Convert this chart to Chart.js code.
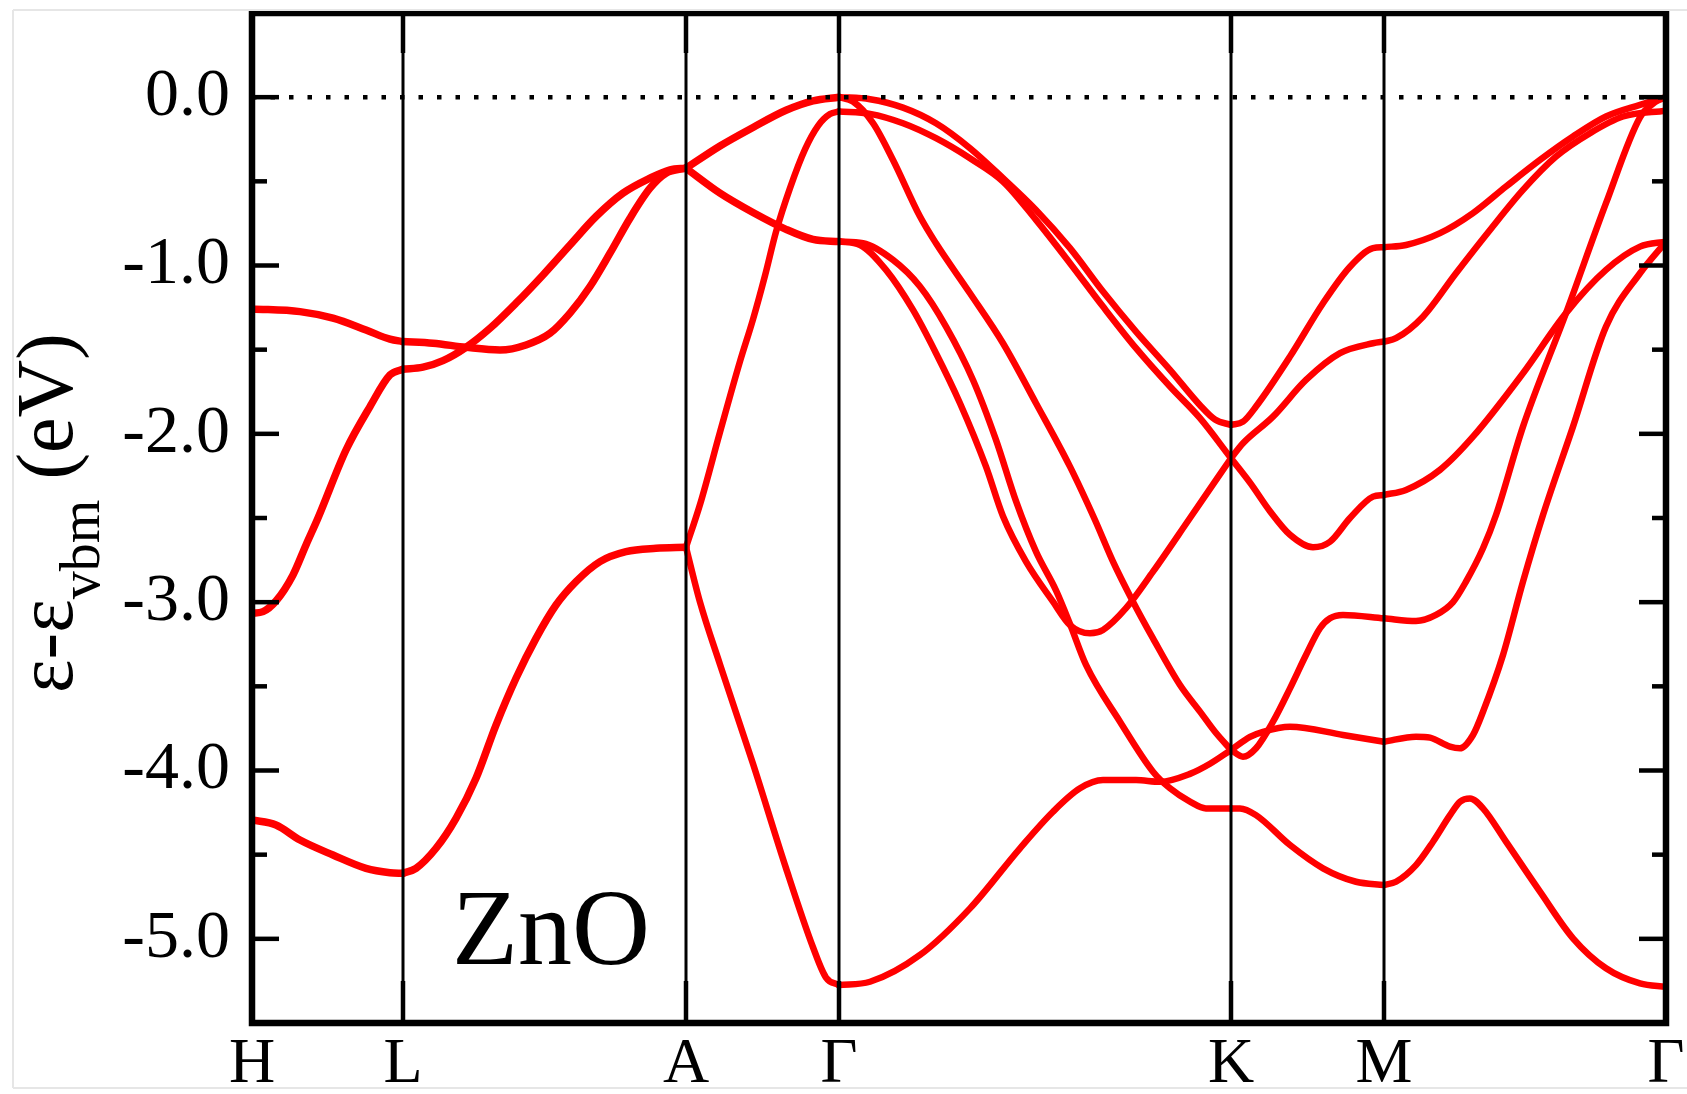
<!DOCTYPE html>
<html lang="en">
<head>
    <meta charset="UTF-8">
    <title>ZnO band structure</title>
    <script src="https://cdn.jsdelivr.net/npm/chart.js"></script>
    <style>
        body {
            margin: 0;
            padding: 0;
            background-color: #fff;
        }

        #wrap {
            width: 1687px;
            height: 1094px;
        }
    </style>
</head>
<body>
    <div id="wrap"><canvas id="bandChart" width="1687" height="1094"></canvas></div>

    <script>
        // high-symmetry points along the k-path (path length, arbitrary units)
        const kPath = [0, 0.151, 0.434, 0.587, 0.979, 1.132, 1.414];
        const kLabels = ['H', 'L', 'A', 'Γ', 'K', 'M', 'Γ'];

        // energy axis ticks (eV)
        const majorTicks = [0, -1, -2, -3, -4, -5];
        const minorTicks = [-0.5, -1.5, -2.5, -3.5, -4.5];

        // valence bands, [k, E - E_vbm], one list per piece of line

        // H - L (doubly degenerate)
        const hl1 = [[0, -1.258], [0.048, -1.274], [0.081, -1.313], [0.114, -1.383], [0.138, -1.438], [0.151, -1.452]];
        const hl2 = [[0, -3.066], [0.011, -3.056], [0.024, -2.993], [0.041, -2.838], [0.054, -2.66], [0.066, -2.5],
                     [0.094, -2.096], [0.118, -1.838], [0.138, -1.65], [0.151, -1.616]];
        const hl3 = [[0, -4.294], [0.024, -4.324], [0.048, -4.413], [0.081, -4.502], [0.114, -4.581], [0.138, -4.607], [0.151, -4.611]];

        // L - A (doubly degenerate)
        const la1 = [[0.151, -1.452], [0.181, -1.462], [0.214, -1.486], [0.248, -1.502], [0.274, -1.472], [0.298, -1.403],
                     [0.318, -1.283], [0.338, -1.125], [0.358, -0.927], [0.378, -0.719], [0.398, -0.541], [0.414, -0.452], [0.434, -0.422]];
        const la2 = [[0.151, -1.616], [0.171, -1.604], [0.191, -1.565], [0.214, -1.486], [0.238, -1.373], [0.264, -1.224],
                     [0.291, -1.056], [0.318, -0.878], [0.344, -0.709], [0.371, -0.57], [0.398, -0.481], [0.418, -0.432], [0.434, -0.422]];
        const la3 = [[0.151, -4.611], [0.164, -4.581], [0.184, -4.462], [0.204, -4.284], [0.224, -4.046], [0.244, -3.73],
                     [0.264, -3.452], [0.284, -3.215], [0.304, -3.017], [0.324, -2.878], [0.348, -2.759], [0.374, -2.7], [0.404, -2.68], [0.434, -2.674]];

        // A - Gamma
        const ag1 = [[0.434, -0.422], [0.468, -0.29], [0.501, -0.18], [0.534, -0.078], [0.561, -0.022], [0.587, 0]];
        const ag2 = [[0.434, -0.422], [0.468, -0.57], [0.501, -0.685], [0.534, -0.785], [0.561, -0.845], [0.587, -0.858]];
        const ag3 = [[0.434, -2.674], [0.448, -2.42], [0.468, -1.99], [0.488, -1.57], [0.501, -1.32], [0.513, -1.06],
                     [0.524, -0.8], [0.538, -0.54], [0.553, -0.31], [0.566, -0.17], [0.578, -0.1], [0.587, -0.085]];
        const ag4 = [[0.434, -2.674], [0.448, -3.0], [0.468, -3.37], [0.501, -3.96], [0.534, -4.58], [0.561, -5.05], [0.574, -5.23], [0.587, -5.275]];

        // Gamma - K
        const gk1 = [[0.587, 0], [0.618, -0.012], [0.651, -0.062], [0.684, -0.155], [0.718, -0.303], [0.751, -0.481], [0.784, -0.67],
                     [0.818, -0.897], [0.851, -1.155], [0.884, -1.393], [0.918, -1.62], [0.948, -1.83], [0.963, -1.915], [0.979, -1.947]];
        const gk2 = [[0.587, -0.085], [0.618, -0.099], [0.651, -0.155], [0.684, -0.244], [0.718, -0.363], [0.751, -0.501], [0.784, -0.729],
                     [0.818, -0.986], [0.851, -1.244], [0.884, -1.491], [0.918, -1.719], [0.948, -1.907], [0.979, -2.145]];
        const gk3 = [[0.587, 0], [0.601, -0.026], [0.621, -0.154], [0.641, -0.373], [0.668, -0.709], [0.684, -0.868], [0.718, -1.165],
                     [0.751, -1.462], [0.784, -1.818], [0.818, -2.195], [0.843, -2.512], [0.861, -2.759], [0.881, -2.997], [0.901, -3.215],
                     [0.928, -3.492], [0.948, -3.65], [0.963, -3.77], [0.979, -3.878]];
        const gk4 = [[0.587, -0.858], [0.608, -0.878], [0.634, -1.026], [0.661, -1.264], [0.684, -1.521], [0.708, -1.818], [0.734, -2.195],
                     [0.751, -2.49], [0.774, -2.759], [0.801, -2.997], [0.818, -3.136], [0.838, -3.185], [0.851, -3.165], [0.874, -3.036],
                     [0.901, -2.819], [0.938, -2.5], [0.979, -2.145]];
        const gk5 = [[0.587, -0.858], [0.611, -0.868], [0.641, -0.967], [0.668, -1.125], [0.694, -1.363], [0.721, -1.68], [0.744, -2.036],
                     [0.764, -2.4], [0.784, -2.7], [0.804, -2.93], [0.818, -3.13], [0.834, -3.373], [0.868, -3.71], [0.901, -4.007],
                     [0.918, -4.106], [0.938, -4.185], [0.954, -4.225], [0.979, -4.225]];
        const gk6 = [[0.587, -5.275], [0.618, -5.255], [0.668, -5.096], [0.718, -4.819], [0.768, -4.462], [0.801, -4.245], [0.828, -4.106],
                     [0.851, -4.057], [0.884, -4.057], [0.908, -4.067], [0.938, -4.02], [0.958, -3.96], [0.979, -3.878]];

        // K - M
        const km1 = [[0.979, -1.947], [0.991, -1.928], [1.004, -1.838], [1.038, -1.541], [1.071, -1.224], [1.098, -1.007], [1.121, -0.897], [1.132, -0.891]];
        const km2 = [[0.979, -2.145], [0.991, -2.056], [1.021, -1.898], [1.054, -1.68], [1.088, -1.521], [1.121, -1.462], [1.132, -1.452]];
        const km3 = [[0.979, -2.145], [0.998, -2.29], [1.018, -2.46], [1.038, -2.6], [1.061, -2.674], [1.078, -2.641], [1.098, -2.5], [1.121, -2.373], [1.132, -2.363]];
        const km4 = [[0.979, -3.878], [0.991, -3.918], [1.004, -3.868], [1.021, -3.71], [1.038, -3.512], [1.054, -3.314], [1.068, -3.155],
                     [1.078, -3.096], [1.091, -3.076], [1.132, -3.096]];
        const km5 = [[0.979, -3.878], [0.998, -3.8], [1.011, -3.77], [1.038, -3.74], [1.091, -3.789], [1.132, -3.829]];
        const km6 = [[0.979, -4.225], [0.988, -4.225], [1.004, -4.265], [1.038, -4.443], [1.071, -4.581], [1.104, -4.661], [1.132, -4.68]];

        // M - Gamma
        const mg1 = [[1.132, -0.891], [1.154, -0.878], [1.188, -0.808], [1.221, -0.689], [1.254, -0.531], [1.288, -0.373], [1.321, -0.234],
                     [1.354, -0.115], [1.388, -0.046], [1.414, 0]];
        const mg2 = [[1.132, -1.452], [1.144, -1.432], [1.171, -1.304], [1.204, -1.046], [1.238, -0.789], [1.271, -0.551], [1.304, -0.353],
                     [1.338, -0.214], [1.371, -0.115], [1.414, -0.08]];
        const mg3 = [[1.132, -2.363], [1.154, -2.333], [1.188, -2.214], [1.221, -2.017], [1.271, -1.64], [1.314, -1.283], [1.354, -1.026],
                     [1.388, -0.888], [1.414, -0.858]];
        const mg4 = [[1.132, -3.096], [1.164, -3.112], [1.184, -3.076], [1.201, -3.0], [1.214, -2.878], [1.231, -2.68], [1.244, -2.482],
                     [1.271, -1.957], [1.314, -1.283], [1.354, -0.63], [1.388, -0.12], [1.403, -0.03], [1.414, 0]];
        const mg5 = [[1.132, -3.829], [1.164, -3.799], [1.178, -3.805], [1.198, -3.858], [1.208, -3.868], [1.221, -3.789], [1.231, -3.651],
                     [1.251, -3.314], [1.271, -2.878], [1.291, -2.482], [1.321, -1.957], [1.354, -1.363], [1.388, -1.046], [1.414, -0.858]];
        const mg6 = [[1.132, -4.68], [1.144, -4.661], [1.164, -4.562], [1.181, -4.423], [1.198, -4.265], [1.208, -4.185], [1.218, -4.166],
                     [1.231, -4.225], [1.254, -4.423], [1.288, -4.72], [1.321, -4.997], [1.354, -5.175], [1.388, -5.265], [1.414, -5.285]];

        // valence band maximum reference line
        const vbmLine = [[0, 0], [1.414, 0]];

        const doubleBands = [hl1, hl2, hl3, la1, la2, la3, ag1, ag2];
        const singleBands = [ag3, ag4, gk1, gk2, gk3, gk4, gk5, gk6, km1, km2, km3, km4, km5, km6, mg1, mg2, mg3, mg4, mg5, mg6];

        const serif = "'Liberation Serif', 'Times New Roman', serif";
        const toPoints = arr => arr.map(([k, e]) => ({ x: k, y: e }));

        const bandSet = (arr, width) => ({
            data: toPoints(arr),
            borderColor: '#ff0000',
            borderWidth: width,
            pointRadius: 0,
            fill: false,
            cubicInterpolationMode: 'monotone',
            borderCapStyle: 'round',
            borderJoinStyle: 'round',
            order: 1
        });

        const datasets = [
            ...doubleBands.map(b => bandSet(b, 7.5)),
            ...singleBands.map(b => bandSet(b, 6.5)),
            {
                data: toPoints(vbmLine),
                borderColor: '#000',
                borderWidth: 4.5,
                borderDash: [4.5, 14],
                borderCapStyle: 'butt',
                pointRadius: 0,
                fill: false,
                order: 0
            }
        ];

        // frame, high-symmetry lines, inward ticks, axis title and label
        const decor = {
            id: 'decor',
            afterDatasetsDraw(chart) {
                const { ctx, chartArea: a, scales: { x, y } } = chart;
                const seg = (x1, y1, x2, y2) => {
                    ctx.beginPath();
                    ctx.moveTo(x1, y1);
                    ctx.lineTo(x2, y2);
                    ctx.stroke();
                };
                ctx.save();
                ctx.strokeStyle = '#000';
                ctx.lineCap = 'butt';

                ctx.lineWidth = 3;
                kPath.slice(1, -1).forEach(k => {
                    const px = x.getPixelForValue(k);
                    seg(px, a.top, px, a.bottom);
                });
                ctx.lineWidth = 4.5;
                kPath.slice(1, -1).forEach(k => {
                    const px = x.getPixelForValue(k);
                    seg(px, a.top, px, a.top + 40);
                    seg(px, a.bottom, px, a.bottom - 42);
                });

                majorTicks.forEach(v => {
                    const py = y.getPixelForValue(v);
                    seg(a.left, py, a.left + 27, py);
                    seg(a.right, py, a.right - 27, py);
                });
                minorTicks.forEach(v => {
                    const py = y.getPixelForValue(v);
                    seg(a.left, py, a.left + 15, py);
                    seg(a.right, py, a.right - 14, py);
                });

                ctx.lineWidth = 6.5;
                ctx.lineJoin = 'miter';
                ctx.strokeRect(a.left, a.top, a.right - a.left, a.bottom - a.top);

                // faint outer edge of the original figure
                ctx.strokeStyle = '#e6e6e6';
                ctx.lineWidth = 2;
                seg(13, 10, 13, 1088);
                seg(13, 10, 1687, 10);
                seg(13, 1088, 1687, 1088);

                ctx.fillStyle = '#000';
                ctx.textBaseline = 'alphabetic';
                ctx.textAlign = 'left';
                ctx.font = '108px ' + serif;
                ctx.fillText('ZnO', 452, 964);

                // y title with subscript, rotated
                ctx.translate(72, 693);
                ctx.rotate(-Math.PI / 2);
                ctx.font = '80px ' + serif;
                ctx.fillText('ε-ε', 0, 0);
                let w = ctx.measureText('ε-ε').width;
                ctx.font = '56px ' + serif;
                ctx.fillText('vbm', w, 27);
                w += ctx.measureText('vbm').width;
                ctx.font = '80px ' + serif;
                ctx.fillText(' (eV)', w, 0);
                ctx.restore();
            }
        };

        new Chart(document.getElementById('bandChart'), {
            type: 'line',
            data: { datasets: datasets },
            options: {
                responsive: false,
                animation: false,
                devicePixelRatio: 1,
                events: [],
                layout: { padding: { left: 0, right: 21, top: 13, bottom: 0 } },
                plugins: { legend: { display: false }, tooltip: { enabled: false } },
                scales: {
                    x: {
                        type: 'linear',
                        min: kPath[0],
                        max: kPath[kPath.length - 1],
                        afterBuildTicks: scale => { scale.ticks = kPath.map(v => ({ value: v })); },
                        afterFit: scale => {
                            scale.height = 71;
                            scale.paddingLeft = 0;
                            scale.paddingRight = 0;
                        },
                        grid: { display: false, drawTicks: false },
                        border: { display: false },
                        ticks: {
                            autoSkip: false,
                            maxRotation: 0,
                            padding: 4,
                            color: '#000',
                            font: { family: serif, size: 64 },
                            callback: (v, i) => kLabels[i]
                        }
                    },
                    y: {
                        min: -5.5,
                        max: 0.5,
                        afterBuildTicks: scale => { scale.ticks = majorTicks.map(v => ({ value: v })); },
                        afterFit: scale => {
                            scale.width = 252;
                            scale.paddingTop = 0;
                            scale.paddingBottom = 0;
                        },
                        grid: { display: false, drawTicks: false },
                        border: { display: false },
                        ticks: {
                            padding: 22,
                            color: '#000',
                            font: { family: serif, size: 68 },
                            callback: v => v.toFixed(1)
                        }
                    }
                }
            },
            plugins: [decor]
        });
    </script>
</body>
</html>
